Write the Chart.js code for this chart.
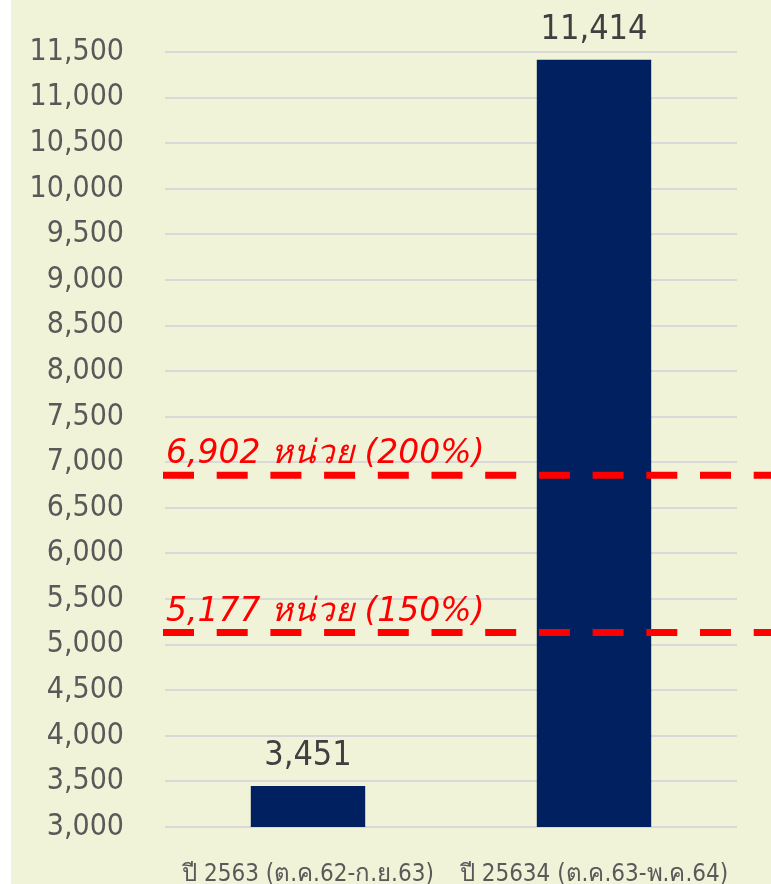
<!DOCTYPE html>
<html>
<head>
<meta charset="utf-8">
<script src="https://cdn.jsdelivr.net/npm/chart.js@4.4.1/dist/chart.umd.min.js"></script>
<style>
  html, body { margin: 0; padding: 0; background: #ffffff; }
  canvas { display: block; }
</style>
</head>
<body>
<canvas id="c" width="771" height="884"></canvas>
<script>
const categories = ["ปี 2563 (ต.ค.62-ก.ย.63)", "ปี 25634 (ต.ค.63-พ.ค.64)"];
const values = [3451, 11414];
const refValues = [6902, 5177];
const refLabels = ["6,902 หน่วย (200%)", "5,177 หน่วย (150%)"];
const yMin = 3000, yMax = 11500, yStep = 500;

const FONT = "'DejaVu Sans Condensed', 'DejaVu Sans', sans-serif";
const BG = "#f1f3d9";

const bgPlugin = {
  id: "bg",
  beforeDraw(chart) {
    const ctx = chart.ctx;
    ctx.save();
    ctx.fillStyle = BG;
    ctx.fillRect(11, 0, chart.width - 11, chart.height);
    ctx.restore();
  }
};

const overlayPlugin = {
  id: "overlay",
  afterDatasetsDraw(chart) {
    const ctx = chart.ctx;
    const y = chart.scales.y;
    const meta = chart.getDatasetMeta(0);
    ctx.save();
    // data labels
    ctx.fillStyle = "#404040";
    ctx.font = "34px " + FONT;
    ctx.textAlign = "center";
    ctx.textBaseline = "alphabetic";
    meta.data.forEach((bar, i) => {
      ctx.fillText(values[i].toLocaleString("en-US"), bar.x, bar.y - 21);
    });
    // reference lines
    refValues.forEach((v, i) => {
      const py = y.getPixelForValue(v) + 4;
      ctx.strokeStyle = "#ff0000";
      ctx.lineWidth = 7;
      ctx.setLineDash([31, 22.7]);
      ctx.beginPath();
      ctx.moveTo(163, py);
      ctx.lineTo(chart.width, py);
      ctx.stroke();
      ctx.setLineDash([]);
      ctx.fillStyle = "#ff0000";
      ctx.font = "italic 33px 'DejaVu Sans', sans-serif";
      ctx.textAlign = "left";
      ctx.fillText(refLabels[i], 166, py - 12);
    });
    ctx.restore();
  }
};

new Chart(document.getElementById("c"), {
  type: "bar",
  data: {
    labels: categories,
    datasets: [{
      data: values,
      backgroundColor: "#002060",
      borderWidth: 0,
      categoryPercentage: 1,
      barPercentage: 0.4
    }]
  },
  options: {
    responsive: false,
    animation: false,
    devicePixelRatio: 1,
    layout: { padding: { top: 52, right: 34, left: 0, bottom: 0 } },
    plugins: { legend: { display: false }, tooltip: { enabled: false } },
    scales: {
      x: {
        grid: { display: false },
        border: { display: false },
        ticks: {
          color: "#595959",
          font: { family: FONT, size: 24 },
          padding: 25,
          maxRotation: 0,
          autoSkip: false
        },
        afterFit(axis) { axis.height = 57; axis.paddingLeft = 0; axis.paddingRight = 0; }
      },
      y: {
        min: yMin,
        max: yMax,
        border: { display: false },
        grid: { color: "#d9d9d9", lineWidth: 2, drawTicks: false },
        ticks: {
          stepSize: yStep,
          color: "#595959",
          font: { family: FONT, size: 30 },
          padding: 41,
          callback: (v) => v.toLocaleString("en-US")
        },
        afterFit(axis) { axis.width = 165; axis.paddingTop = 0; axis.paddingBottom = 0; }
      }
    }
  },
  plugins: [bgPlugin, overlayPlugin]
});
</script>
</body>
</html>
